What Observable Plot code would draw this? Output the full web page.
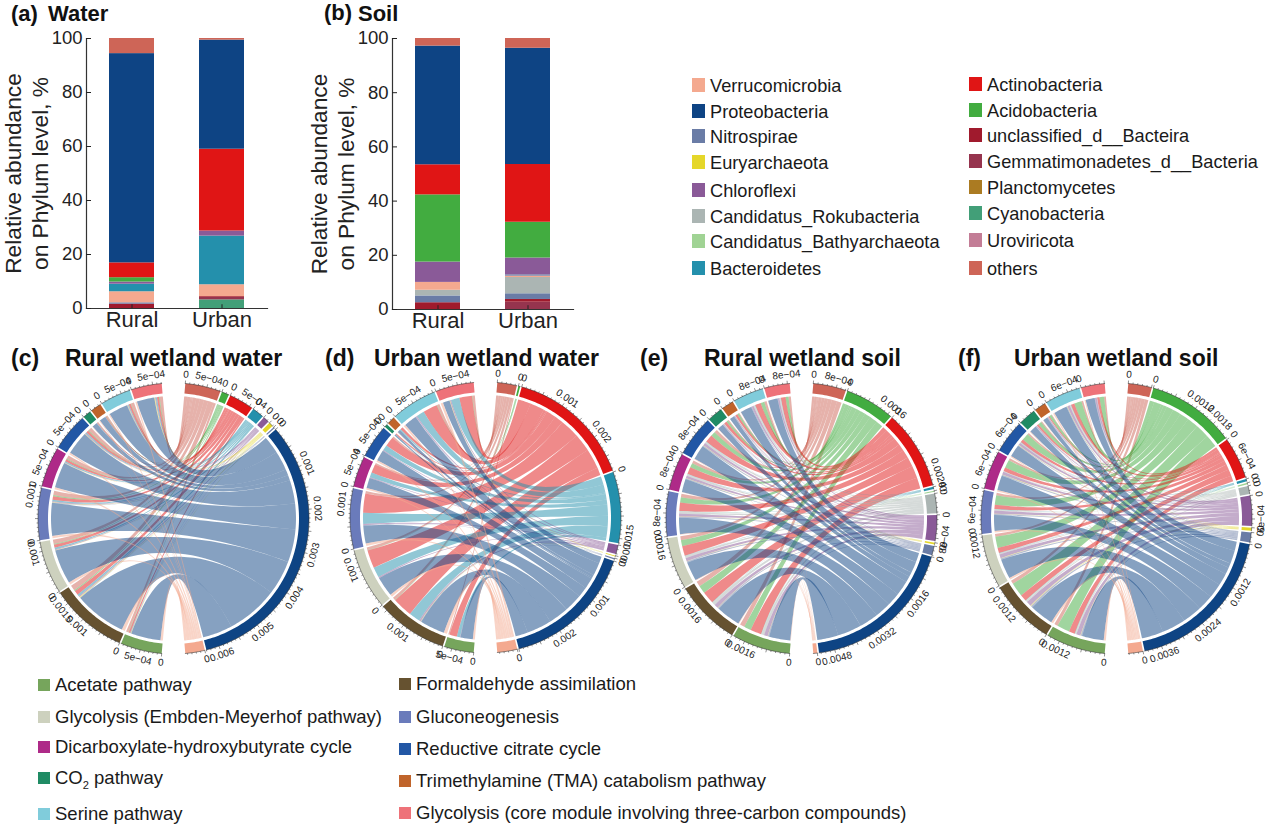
<!DOCTYPE html>
<html><head><meta charset="utf-8">
<script src="https://cdn.jsdelivr.net/npm/d3@7"></script>
<script src="https://cdn.jsdelivr.net/npm/@observablehq/plot@0.6"></script>
<style>
html,body{margin:0;padding:0;background:#fff;}
#page{position:relative;width:1269px;height:833px;overflow:hidden;font-family:"Liberation Sans",sans-serif;color:#1a1a1a;}
#page>*{position:absolute;}
.t{white-space:nowrap;line-height:1;}
.b{font-weight:bold;color:#111;}
sub{font-size:60%;line-height:0;}
</style></head><body><div id="page"></div>
<script>
// ---------- names and colours ----------
const phylumNames = ["Verrucomicrobia","Proteobacteria","Nitrospirae","Euryarchaeota","Chloroflexi","Candidatus_Rokubacteria","Candidatus_Bathyarchaeota","Bacteroidetes","Actinobacteria","Acidobacteria","unclassified_d__Bacteira","Gemmatimonadetes_d__Bacteria","Planctomycetes","Cyanobacteria","Uroviricota","others"];
const phylumColors = ["#F4A98F","#0E4484","#6A7CA6","#E5D72A","#8A5A98","#ABB5B3","#A0D394","#2490AC","#E01515","#42AC40","#A01A2D","#96344E","#AB7B22","#429F78","#C37D96","#CE6557"];
const pathwayNames = ["Acetate pathway","Formaldehyde assimilation","Glycolysis (Embden-Meyerhof pathway)","Gluconeogenesis","Dicarboxylate-hydroxybutyrate cycle","Reductive citrate cycle","CO2 pathway","Trimethylamine (TMA) catabolism pathway","Serine pathway","Glycolysis (core module involving three-carbon compounds)"];
const pathwayColors = ["#76A55C","#665230","#CDD1BE","#6A7BBB","#AE2A88","#2257A5","#1F8B64","#C0642B","#80CCDB","#EE7279"];

// ---------- stacked bars (bottom to top) ----------
const waterRuralPhyla = ["unclassified_d__Bacteira","Nitrospirae","Verrucomicrobia","Bacteroidetes","Chloroflexi","Acidobacteria","Actinobacteria","Proteobacteria","others"];
const waterRuralVals = [1.6,0.5,4.1,2.8,0.8,1.6,5.5,77.5,5.6];
const waterUrbanPhyla = ["Cyanobacteria","Gemmatimonadetes_d__Bacteria","unclassified_d__Bacteira","Verrucomicrobia","Bacteroidetes","Chloroflexi","Actinobacteria","Proteobacteria","others"];
const waterUrbanVals = [3.2,0.9,0.3,4.4,18,1.9,30.3,40.4,0.6];
const soilRuralPhyla = ["unclassified_d__Bacteira","Nitrospirae","Candidatus_Rokubacteria","Verrucomicrobia","Chloroflexi","Acidobacteria","Actinobacteria","Proteobacteria","others"];
const soilRuralVals = [2.5,2.5,2.1,2.9,7.5,24.8,11.1,43.8,2.8];
const soilUrbanPhyla = ["Gemmatimonadetes_d__Bacteria","unclassified_d__Bacteira","Nitrospirae","Candidatus_Rokubacteria","Verrucomicrobia","Nitrospirae","Chloroflexi","Acidobacteria","Actinobacteria","Proteobacteria","others"];
const soilUrbanVals = [2.7,1,2.1,6,0.5,0.5,6.2,13.2,21.3,42.9,3.6];

// ---------- chord flows: rows = pathwayNames, columns = phyla; units of 1e-5 ----------
const phylaCD = ["others","Acidobacteria","Actinobacteria","Bacteroidetes","Chloroflexi","Euryarchaeota","Nitrospirae","Proteobacteria","Verrucomicrobia"];
const phylaEF = ["others","Acidobacteria","Actinobacteria","Bacteroidetes","Candidatus_Bathyarchaeota","Candidatus_Rokubacteria","Chloroflexi","Euryarchaeota","Nitrospirae","Proteobacteria","Verrucomicrobia"];
const flowsC = [[6,1,4,1,1,1,0,76,6],[14,3,11,5,3,2,1,133,8],[11,2,8,4,2,1,0,88,6],[11,3,9,4,2,1,1,84,6],[9,2,6,3,1,1,0,66,5],[9,2,6,3,2,1,0,60,4],[3,0,1,1,0,0,0,13,1],[3,1,2,1,0,0,0,16,2],[8,1,5,2,1,1,1,49,3],[8,2,5,3,2,2,0,45,4]];
const flowsD = [[3,0,19,8,1,0,0,31,5],[7,1,50,28,4,1,1,62,8],[7,1,45,26,3,0,0,50,6],[6,0,48,28,3,0,1,45,6],[4,0,22,12,2,0,0,26,4],[4,0,24,14,2,0,0,27,4],[0,0,3,1,0,0,0,3,0],[1,0,6,3,0,0,0,7,1],[6,1,36,20,3,0,1,32,5],[6,1,32,21,3,1,0,17,6]];
const flowsE = [[18,27,42,1,1,10,14,1,5,81,2],[20,30,47,1,1,12,15,1,5,92,2],[15,23,37,1,0,9,12,1,5,73,2],[13,20,32,1,1,8,11,1,4,62,2],[11,17,27,1,0,7,9,1,3,51,1],[12,18,29,1,0,7,10,1,4,56,2],[4,7,11,0,0,3,3,0,1,23,1],[3,6,9,0,0,2,3,0,1,18,0],[9,14,22,1,1,5,7,0,3,43,1],[9,11,18,1,0,5,6,0,1,36,1]];
const flowsF = [[10,36,17,1,1,3,12,1,4,62,6],[10,40,19,1,1,4,14,2,5,68,6],[8,32,15,1,0,3,11,1,4,56,5],[7,27,12,1,1,2,9,1,3,45,4],[6,23,11,0,0,2,8,1,3,42,4],[5,20,9,1,0,2,7,1,2,35,3],[3,10,5,0,0,1,3,0,1,20,2],[2,7,3,0,0,1,2,0,1,13,1],[5,21,10,1,1,2,7,1,2,38,4],[5,13,7,0,0,1,5,0,1,26,3]];

// ---------- labelled ticks per sector (1e-5 units) ----------
const phylaTicksC = [[0,50],[0],[0,50],[0],[0],[0],[0],[0,100,200,300,400,500,600],[0]];
const pathTicksC = [[0,50],[0,100,150],[0,100],[0,100],[0,50],[0,50],[0],[0],[0,50],[0,50]];
const phylaTicksD = [[0],[0],[0,100,200],[0,150],[0],[0],[0],[0,100,200],[0]];
const pathTicksD = [[0,50],[0,100],[0,100],[0,100],[0,50],[0,50],[0],[0],[0,50],[0,50]];
const phylaTicksE = [[0,80],[0,160],[0,240],[0],[0],[0],[0,80],[0],[0],[0,160,320,480],[0]];
const pathTicksE = [[0,160],[0,160],[0,160],[0,80],[0,80],[0,80],[0],[0],[0,80],[0,80]];
const phylaTicksF = [[0],[0,120,180],[0,60],[0],[0],[0],[0,60],[0],[0],[0,120,240,360],[0]];
const pathTicksF = [[0,120],[0,120],[0,120],[0,60],[0,60],[0,60],[0],[0],[0,60],[0]];

const FONT = "Liberation Sans";
const page = document.getElementById("page");
function put(el,x,y){el.style.left=x+"px";el.style.top=y+"px";page.appendChild(el);return el;}
function txt(html,x,y,size,cls){const d=document.createElement("div");d.className="t "+(cls||"");d.innerHTML=html;d.style.fontSize=size+"px";return put(d,x,y);}
function swatch(color,x,y,w,h){const d=document.createElement("div");d.style.cssText=`background:${color};width:${w}px;height:${h}px`;return put(d,x,y);}

// ---------- stacked bar panels ----------
function barPanel(left,bottom,rural,ruralV,urban,urbanV){
  const rows=[];
  for(const [site,names,vals] of [["Rural",rural,ruralV],["Urban",urban,urbanV]]){
    let c=0; names.forEach((n,i)=>{rows.push({site,phylum:n,y1:c,y2:c+vals[i]});c+=vals[i];});
  }
  const p=Plot.plot({
    width:300,height:340,marginLeft:86,marginRight:33,marginTop:38,marginBottom:bottom,
    style:{background:"transparent",overflow:"visible",fontFamily:FONT},
    x:{domain:["Rural","Urban"],paddingInner:0.5,paddingOuter:0.25,label:null},
    y:{domain:[0,100],label:null},
    color:{domain:phylumNames,range:phylumColors},
    marks:[
      Plot.barY(rows,{x:"site",y1:"y1",y2:"y2",fill:"phylum"}),
      Plot.ruleX(["Rural","Urban"],{x:d=>d,y1:0,y2:1.4,stroke:"#222",strokeWidth:1}),
      Plot.frame({anchor:"left",stroke:"#333",strokeWidth:1.2}),
      Plot.frame({anchor:"bottom",stroke:"#333",strokeWidth:1.2}),
      Plot.axisY({ticks:[0,20,40,60,80,100],tickSize:-5,tickPadding:9,fontSize:18.5,label:null,stroke:"#222",color:"#222"}),
      Plot.axisX({tickSize:0,tickPadding:3,fontSize:22,label:null,color:"#222"}),
      Plot.text(["Relative abundance"],{frameAnchor:"left",textAnchor:"middle",rotate:-90,dx:-73,fontSize:22.7,fill:"#222",fontFamily:FONT}),
      Plot.text(["on Phylum level, %"],{frameAnchor:"left",textAnchor:"middle",rotate:-90,dx:-46,fontSize:22.7,fill:"#222",fontFamily:FONT})
    ]
  });
  put(p,left,0);
}
barPanel(0,32,waterRuralPhyla,waterRuralVals,waterUrbanPhyla,waterUrbanVals);
barPanel(306,31,soilRuralPhyla,soilRuralVals,soilUrbanPhyla,soilUrbanVals);

// ---------- chord panels ----------
const allNames=[...phylumNames,...pathwayNames], allColors=[...phylumColors,...pathwayColors];
const rad=d=>d*Math.PI/180;
const px=(r,a)=>r*Math.sin(rad(a)), py=(r,a)=>-r*Math.cos(rad(a));
const fmt=v=>v===0?"0":v<100?(v/10)+"e\u221204":String(+(v*1e-5).toFixed(5));

function chord(cx,cy,phyla,flows,phylaTicks,pathTicks,minor,major){
  const R=135.5,Ri=125.5,Rl=122.5,G=0.7,H=165;
  const phyTot=phyla.map((_,j)=>d3.sum(flows,r=>r[j]));
  const patTot=flows.map(r=>d3.sum(r));
  const kP=(170-G*(phyla.length-1))/d3.sum(phyTot);
  const kQ=(170-G*(pathwayNames.length-1))/d3.sum(patTot);
  const sectors=[];
  let a=5;
  phyla.forEach((n,j)=>{sectors.push({name:n,start:a,total:phyTot[j],k:kP,labels:phylaTicks[j]});a+=phyTot[j]*kP+G;});
  const phyStart=sectors.map(s=>s.start);
  a=185;
  pathwayNames.forEach((n,i)=>{sectors.push({name:n,start:a,total:patTot[i],k:kQ,labels:pathTicks[i]});a+=patTot[i]*kQ+G;});
  const patStart=sectors.slice(phyla.length).map(s=>s.start);
  // positions of each link end in its sector, clockwise
  const aPos=flows.map(r=>r.map(()=>0)), bPos=flows.map(r=>r.map(()=>0));
  phyla.forEach((_,j)=>{let p=phyStart[j];for(let i=flows.length-1;i>=0;i--){aPos[i][j]=p;p+=flows[i][j]*kP;}});
  flows.forEach((r,i)=>{let p=patStart[i];for(let j=phyla.length-1;j>=0;j--){bPos[i][j]=p;p+=r[j]*kQ;}});
  const ribbon=[];
  flows.forEach((r,i)=>r.forEach((v,j)=>{
    if(!v)return;
    const id=i+"-"+j,a0=aPos[i][j],a1=a0+v*kP,b0=bPos[i][j],b1=b0+v*kQ;
    const add=(x,y)=>ribbon.push({id,phylum:phyla[j],x,y});
    const arc=(s,e)=>{const n=Math.max(2,Math.ceil((e-s)/1));for(let t=0;t<=n;t++){const an=s+(e-s)*t/n;add(px(Rl,an),py(Rl,an));}};
    const bez=(s,e)=>{const sx=px(Rl,s),sy=py(Rl,s),ex=px(Rl,e),ey=py(Rl,e);for(let t=1;t<30;t++){const u=t/30;add((1-u)*(1-u)*sx+u*u*ex,(1-u)*(1-u)*sy+u*u*ey);}};
    arc(a0,a1);bez(a1,b0);arc(b0,b1);bez(b1,a0);
  }));
  const track=[],axisLine=[],ticks=[],labels=[];
  sectors.forEach((s,si)=>{
    const e=s.start+s.total*s.k,n=Math.max(2,Math.ceil(e-s.start));
    for(let t=0;t<=n;t++){const an=s.start+(e-s.start)*t/n;track.push({id:si,name:s.name,x:px(R,an),y:py(R,an)});axisLine.push({id:si,x:px(R,an),y:py(R,an)});}
    for(let t=n;t>=0;t--){const an=s.start+(e-s.start)*t/n;track.push({id:si,name:s.name,x:px(Ri,an),y:py(Ri,an)});}
    for(let v=0;v<=s.total;v+=minor){
      const an=s.start+v*s.k,len=v%major===0?3:1.5;
      ticks.push({x1:px(R,an),y1:py(R,an),x2:px(R+len,an),y2:py(R+len,an)});
    }
    s.labels.forEach(v=>{
      const an=s.start+v*s.k,rot=(an>90&&an<270)?an-180:(an>=270?an-360:an);
      labels.push({x:px(R+9,an),y:py(R+9,an),rot,text:fmt(v)});
    });
  });
  const p=Plot.plot({
    width:2*H,height:2*H,margin:0,
    style:{background:"transparent",overflow:"visible",fontFamily:FONT},
    x:{domain:[-H,H],range:[0,2*H],axis:null},
    y:{domain:[-H,H],range:[0,2*H],axis:null},
    color:{domain:allNames,range:allColors},
    marks:[
      Plot.line(ribbon,{x:"x",y:"y",z:"id",fill:"phylum",fillOpacity:0.5,stroke:null}),
      Plot.line(track,{x:"x",y:"y",z:"id",fill:"name",stroke:null}),
      Plot.line(axisLine,{x:"x",y:"y",z:"id",stroke:"#222",strokeWidth:0.5}),
      Plot.link(ticks,{x1:"x1",y1:"y1",x2:"x2",y2:"y2",stroke:"#222",strokeWidth:0.5}),
      Plot.text(labels,{x:"x",y:"y",text:"text",rotate:"rot",fontSize:10,fill:"#222",fontFamily:FONT})
    ]
  });
  put(p,cx-H,cy-H);
}
chord(173,517.5,phylaCD,flowsC,phylaTicksC,pathTicksC,10,50);
chord(485,516.7,phylaCD,flowsD,phylaTicksD,pathTicksD,10,50);
chord(800.8,517.7,phylaEF,flowsE,phylaTicksE,pathTicksE,16,80);
chord(1115.8,517.7,phylaEF,flowsF,phylaTicksF,pathTicksF,12,60);

// ---------- headings ----------
txt("(a)",11,3,22,"b"); txt("Water",48,3,22,"b");
txt("(b)",324,2,22,"b"); txt("Soil",358,3,22,"b");
txt("(c)",11,347,23,"b"); txt("Rural wetland water",65,347,23,"b");
txt("(d)",325,347,23,"b"); txt("Urban wetland water",374,347,23,"b");
txt("(e)",640,347,23,"b"); txt("Rural wetland soil",704,347,23,"b");
txt("(f)",958,347,23,"b"); txt("Urban wetland soil",1014,347,23,"b");

// ---------- phylum legend ----------
const legCol1=["Verrucomicrobia","Proteobacteria","Nitrospirae","Euryarchaeota","Chloroflexi","Candidatus_Rokubacteria","Candidatus_Bathyarchaeota","Bacteroidetes"];
const legCol2=["Actinobacteria","Acidobacteria","unclassified_d__Bacteira","Gemmatimonadetes_d__Bacteria","Planctomycetes","Cyanobacteria","Uroviricota","others"];
const legY1=[85,111,136,162,190,216,241,268], legY2=[84,110,135,161,187,213,240,268];
const col=n=>allColors[allNames.indexOf(n)];
legCol1.forEach((n,i)=>{swatch(col(n),692,legY1[i]-7,13,14);txt(n,710,legY1[i]-8,18.2);});
legCol2.forEach((n,i)=>{swatch(col(n),969,legY2[i]-7,13,14);txt(n,987,legY2[i]-8,18.2);});

// ---------- pathway legend ----------
const pathLeg1=[["Acetate pathway","Acetate pathway"],["Glycolysis (Embden-Meyerhof pathway)","Glycolysis (Embden-Meyerhof pathway)"],["Dicarboxylate-hydroxybutyrate cycle","Dicarboxylate-hydroxybutyrate cycle"],["CO2 pathway","CO<sub>2</sub> pathway"],["Serine pathway","Serine pathway"]];
const pathLeg2=[["Formaldehyde assimilation"],["Gluconeogenesis"],["Reductive citrate cycle"],["Trimethylamine (TMA) catabolism pathway"],["Glycolysis (core module involving three-carbon compounds)"]];
const pathY1=[685,717,747,778,814], pathY2=[684,717,749,781,813];
pathLeg1.forEach((n,i)=>{swatch(col(n[0]),38,pathY1[i]-6,12,12);txt(n[1],55,pathY1[i]-9,18.5);});
pathLeg2.forEach((n,i)=>{swatch(col(n[0]),399,pathY2[i]-6,12,12);txt(n[0],416,pathY2[i]-9,18.5);});
</script></body></html>
